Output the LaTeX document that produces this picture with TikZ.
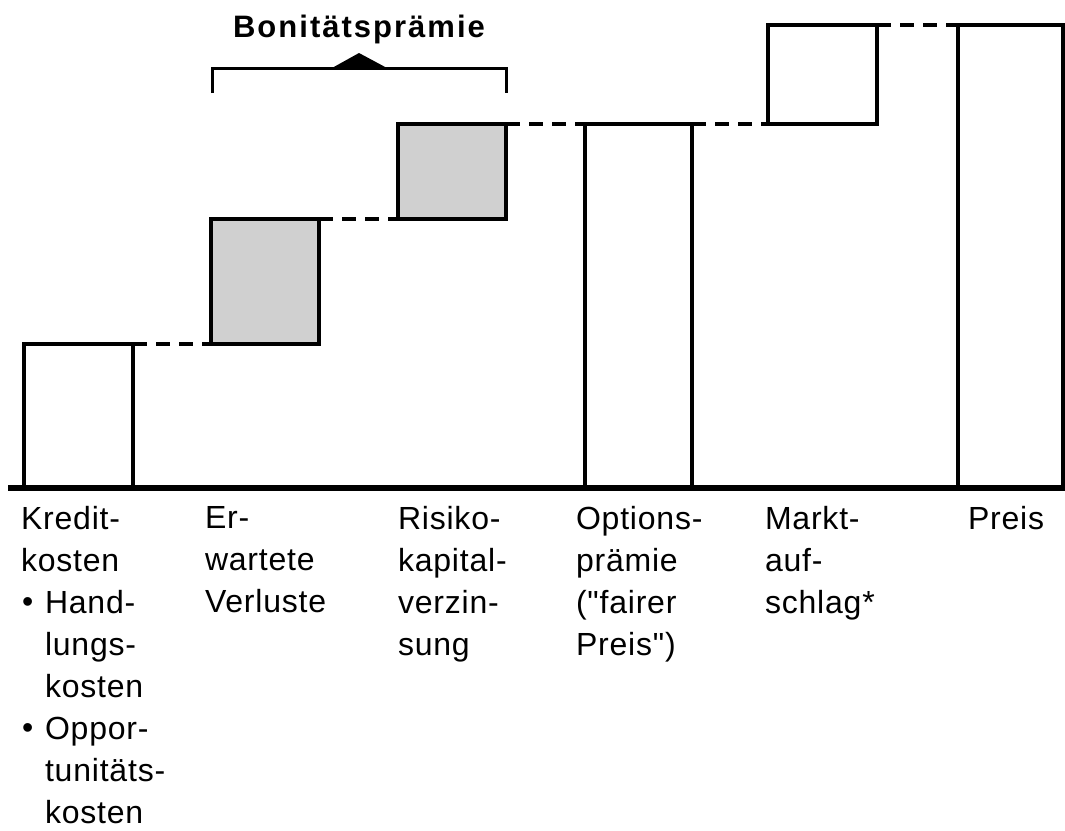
\documentclass[tikz,border=0pt]{standalone}
\usepackage{fontspec}
\setmainfont{Liberation Sans}
\newfontfamily\labfont[LetterSpace=2.5]{Liberation Sans}
\newfontfamily\headfont[LetterSpace=6.5]{Liberation Sans Bold}
\definecolor{barfill}{HTML}{D0D0D0}
\newcommand\bulitem{\makebox[24pt][l]{\hspace*{1pt}\raisebox{1pt}{•}}}
\newcommand\bulcont{\hspace*{24pt}}
\begin{document}
\begin{tikzpicture}[x=1pt,y=-1pt,
  bar/.style={draw=black, line width=3.5pt, inner sep=0pt, outer sep=0pt, anchor=south west, fill=white},
  risk/.style={bar, fill=barfill},
  link/.style={draw=black, line width=3.5pt, dash pattern=on 14pt off 9pt},
  lab/.style={anchor=north west, inner sep=0pt, outer sep=0pt, align=left,
              font=\labfont\fontsize{32pt}{42pt}\selectfont},
  head/.style={anchor=base, inner sep=0pt, font=\headfont\fontsize{31pt}{36pt}\selectfont}]
\useasboundingbox (0,0) rectangle (1065,830);

% bars
\node[bar,  minimum width=109pt, minimum height=144pt] (b1) at (24,488) {};
\node[risk, minimum width=108pt, minimum height=125pt] (b2) at (211,344) {};
\node[risk, minimum width=108pt, minimum height=95pt]  (b3) at (398,219) {};
\node[bar,  minimum width=107pt, minimum height=364pt] (b4) at (585,488) {};
\node[bar,  minimum width=109pt, minimum height=99pt]  (b5) at (768,124) {};
\node[bar,  minimum width=105pt, minimum height=463pt] (b6) at (958,488) {};

% axis
\coordinate (axL) at (8,488);
\coordinate (axR) at (1065,488);
\draw[line width=6pt] (axL) -- (axR);

% dashed connectors
\draw[link] (b1.north east) -- (b2.south west);
\draw[link] (b2.north east) -- (b3.south west);
\draw[link] (b3.north east) -- (b4.north west);
\draw[link] (b4.north east) -- (b5.south west);
\draw[link] (b5.north east) -- (b6.north west);

% brace
\coordinate (brL) at (212,93);
\coordinate (brR) at (506,93);
\draw[line width=3pt] (brL) -- (212,68) -- (506,68) -- (brR);
\fill (332,68) -- (359,53) -- (387,68) -- cycle;
\node[head] (title) at (359,37) {Bonitätsprämie};

% labels
\node[lab] (l1) at (21,506) {Kredit-\\kosten\\\bulitem Hand-\\\bulcont lungs-\\\bulcont kosten\\\bulitem Oppor-\\\bulcont tunitäts-\\\bulcont kosten};
\node[lab] (l2) at (205,506) {Er-\\wartete\\Verluste};
\node[lab] (l3) at (398,506) {Risiko-\\kapital-\\verzin-\\sung};
\node[lab] (l4) at (576,506) {Options-\\prämie\\("fairer\\Preis")};
\node[lab] (l5) at (765,506) {Markt-\\auf-\\schlag*};
\node[lab] (l6) at (968,506) {Preis};
\end{tikzpicture}
\end{document}
